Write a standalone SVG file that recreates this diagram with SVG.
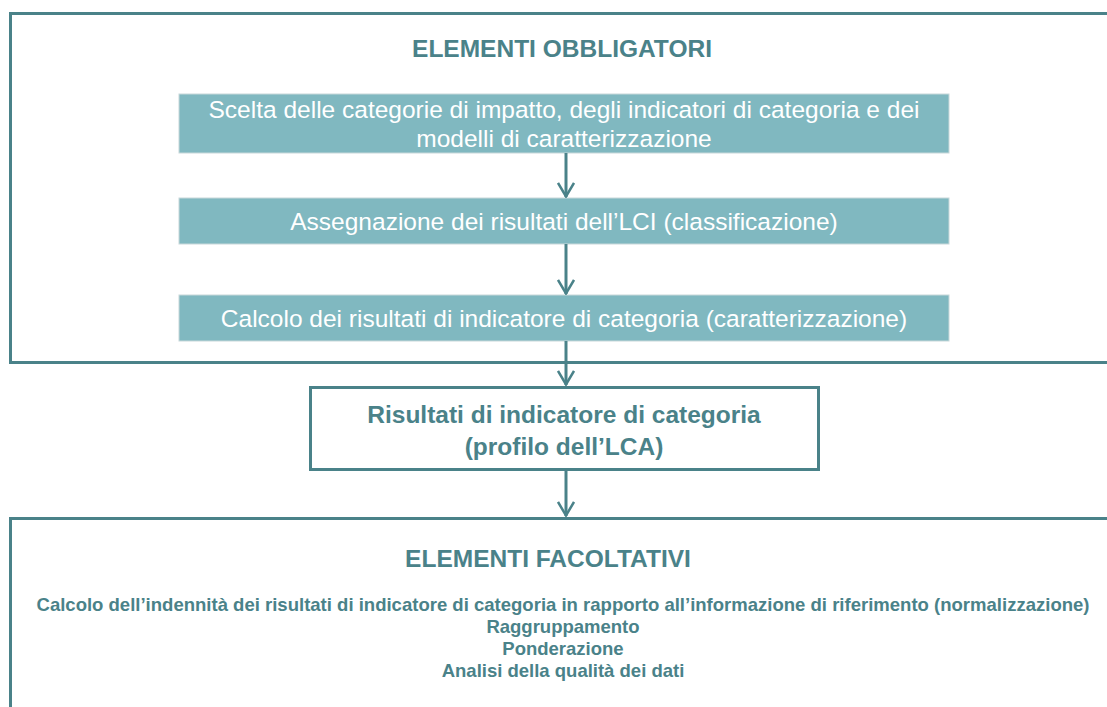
<svg xmlns="http://www.w3.org/2000/svg" width="1107" height="707" viewBox="0 0 1107 707">
<defs>
<style>
.frame{fill:none;stroke:#4A8289;stroke-width:3}
.box{fill:#80B8C0;stroke:#C8D8DA;stroke-width:1}
.wt{fill:#FFFFFF;font-family:"Liberation Sans",Arial,sans-serif;font-size:24.5px;text-anchor:middle}
.hd{fill:#4A8289;font-family:"Liberation Sans",Arial,sans-serif;font-size:24.5px;font-weight:bold;text-anchor:middle}
.sm{fill:#4A8289;font-family:"Liberation Sans",Arial,sans-serif;font-size:18.5px;font-weight:bold;text-anchor:middle}
.conn{stroke:#4A8289;stroke-width:3;fill:none}
</style>
<marker id="ah" viewBox="0 0 16 18" refX="15" refY="9" markerWidth="16" markerHeight="18" markerUnits="userSpaceOnUse" orient="auto">
<path d="M1,1 L14.5,9 L1,17" fill="none" stroke="#4A8289" stroke-width="2.5"/>
</marker>
</defs>
<rect width="1107" height="707" fill="#FFFFFF"/>
<g id="obbligatori">
<path class="frame" d="M1110,13.5 H10.5 V362.5 H1110"/>
<text class="hd" x="562" y="57">ELEMENTI OBBLIGATORI</text>
</g>
<g id="scelta">
<rect class="box" x="179" y="94" width="770" height="59"/>
<text class="wt" x="564" y="118">Scelta delle categorie di impatto, degli indicatori di categoria e dei</text>
<text class="wt" x="564" y="147">modelli di caratterizzazione</text>
</g>
<g id="assegnazione">
<rect class="box" x="179" y="198" width="770" height="46"/>
<text class="wt" x="564" y="230">Assegnazione dei risultati dell’LCI (classificazione)</text>
</g>
<g id="calcolo">
<rect class="box" x="179" y="295" width="770" height="46"/>
<text class="wt" x="564" y="327">Calcolo dei risultati di indicatore di categoria (caratterizzazione)</text>
</g>
<g id="risultati">
<rect x="310.5" y="387.5" width="508" height="82" fill="#FFFFFF" stroke="#4A8289" stroke-width="3"/>
<text class="hd" x="564" y="423">Risultati di indicatore di categoria</text>
<text class="hd" x="564" y="455">(profilo dell’LCA)</text>
</g>
<g id="facoltativi">
<path class="frame" d="M1110,518.5 H10.5 V710"/>
<text class="hd" x="548" y="567">ELEMENTI FACOLTATIVI</text>
<text class="sm" x="563" y="611" textLength="1053" lengthAdjust="spacingAndGlyphs">Calcolo dell’indennità dei risultati di indicatore di categoria in rapporto all’informazione di riferimento (normalizzazione)</text>
<text class="sm" x="563" y="633">Raggruppamento</text>
<text class="sm" x="563" y="655">Ponderazione</text>
<text class="sm" x="563" y="677">Analisi della qualità dei dati</text>
</g>
<g id="connectors">
<line class="conn" x1="566" y1="153" x2="566" y2="197" marker-end="url(#ah)"/>
<line class="conn" x1="566" y1="244" x2="566" y2="294" marker-end="url(#ah)"/>
<line class="conn" x1="566" y1="341" x2="566" y2="385" marker-end="url(#ah)"/>
<line class="conn" x1="566" y1="470" x2="566" y2="516" marker-end="url(#ah)"/>
</g>
</svg>
